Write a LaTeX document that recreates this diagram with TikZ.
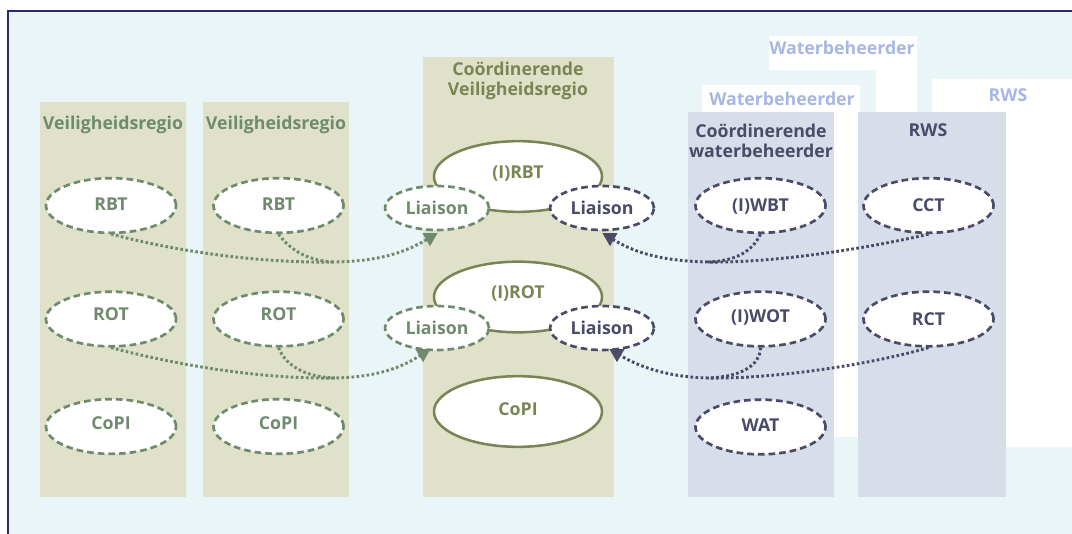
\documentclass[tikz,border=0pt]{standalone}
\usepackage{fontspec}
\setmainfont{Open Sans}
\usetikzlibrary{shapes.geometric}

\definecolor{bgcyan}{HTML}{E9F5F7}
\definecolor{greencol}{HTML}{DFE2C9}
\definecolor{watercol}{HTML}{D8DDEA}
\definecolor{framenavy}{HTML}{2C2A6B}
\definecolor{sage}{HTML}{6F8A6C}
\definecolor{olive}{HTML}{7A8556}
\definecolor{navy}{HTML}{4A4B68}
\definecolor{paleblue}{HTML}{A7B7E1}

\tikzset{
  txt/.style={font=\fontsize{13.3}{15}\selectfont\bfseries},
  lbl/.style={txt, inner sep=0pt, anchor=base, align=center},
  oval/.style={ellipse, fill=white, inner sep=0pt, txt, text height=9.5pt, text depth=0pt},
  up/.style={text depth=#1},
  gdash/.style={oval, draw=sage, text=sage, line width=2pt, dash pattern=on 5pt off 3pt,
    minimum width=97.5pt, minimum height=41pt},
  ndash/.style={oval, draw=navy, text=navy, line width=2pt, dash pattern=on 5pt off 3pt,
    minimum width=97.5pt, minimum height=41pt},
  solidoval/.style={oval, draw=olive, text=olive, line width=1.9pt,
    minimum width=126pt, minimum height=53pt},
  liaisong/.style={gdash, minimum width=78pt, minimum height=33pt},
  liaisonn/.style={ndash, minimum width=78pt, minimum height=33pt},
  gdot/.style={draw=sage, line width=2.2pt, dash pattern=on 2pt off 1.8pt},
  ndot/.style={draw=navy, line width=2.2pt, dash pattern=on 2pt off 1.8pt},
  tri/.style={regular polygon, regular polygon sides=3, shape border rotate=180,
    minimum size=13pt, inner sep=0pt},
}

\begin{document}
\begin{tikzpicture}[x=0.75pt, y=-0.75pt]
\useasboundingbox (0,0) rectangle (1072,533);
\fill[white] (0,0) rectangle (1072,533);

% outer panel
\fill[bgcyan] (8,11) rectangle (1080,545);
\draw[framenavy, line width=1.5pt] (8,545) -- (8,11) -- (1080,11);

% white cards behind the water columns
\fill[white] (769,36) rectangle (917,70);
\fill[white] (876,70) rectangle (917,437);
\fill[white] (702,85) rectangle (860,437);
\fill[white] (932,79) rectangle (1072,447);

% columns
\fill[greencol] (40,102) rectangle (186,497);
\fill[greencol] (203,102) rectangle (349,497);
\fill[greencol] (423,57) rectangle (614,497);
\fill[watercol] (688,112) rectangle (834,497);
\fill[watercol] (858,112) rectangle (1006,497);

% headings (two-line nodes are placed on their last baseline)
\node[lbl, text=sage] (vrA) at (113,129) {Veiligheidsregio};
\node[lbl, text=sage] (vrB) at (276,129) {Veiligheidsregio};
\node[lbl, text=olive] (cvr) at (518,95) {Coördinerende\\Veiligheidsregio};
\node[lbl, text=navy] (cwb) at (761,157) {Coördinerende\\waterbeheerder};
\node[lbl, text=navy] (rwsA) at (928,136) {RWS};
\node[lbl, text=paleblue] (wbTop) at (842,54) {Waterbeheerder};
\node[lbl, text=paleblue] (wbMid) at (782,105) {Waterbeheerder};
\node[lbl, text=paleblue] (rwsB) at (1008,101) {RWS};

% triangles marking the liaison ends
\coordinate (pGA) at (430,237.5);
\coordinate (pNA) at (610,237.5);
\coordinate (pGB) at (423,353.5);
\coordinate (pNB) at (617,353.5);

% ellipses of the regional columns
\node[gdash, up=2.5pt] (rbtA) at (111,205.5) {RBT};
\node[gdash, up=2.5pt] (rbtB) at (278.5,205.5) {RBT};
\node[gdash, up=7.5pt] (rotA) at (111,319) {ROT};
\node[gdash, up=7.5pt] (rotB) at (278.5,319) {ROT};
\node[gdash, up=5.2pt] (copiA) at (111,426.5) {CoPI};
\node[gdash, up=5.2pt] (copiB) at (278.5,426.5) {CoPI};

% water columns
\node[ndash] (iwbt) at (760.5,205.5) {(I)WBT};
\node[ndash] (cct) at (928.5,205.5) {CCT};
\node[ndash, up=4pt] (iwot) at (760.5,319) {(I)WOT};
\node[ndash] (rct) at (928.5,319) {RCT};
\node[ndash, up=3.5pt] (wat) at (760.5,427) {WAT};

% merge points of the dotted links
\coordinate (mGA) at (335,262);
\coordinate (mNA) at (708,262);
\coordinate (mGB) at (335,378);
\coordinate (mNB) at (708,378);

% dotted links
\draw[gdot] (rbtA.south) .. controls (200,257) and (280,263) .. (mGA)
  .. controls (385,261) and (410,250) .. (pGA);
\draw[gdot] (rbtB.south) .. controls (292,252) and (310,261) .. (mGA);
\draw[gdot] (rotA.south) .. controls (200,371) and (280,379) .. (mGB)
  .. controls (380,377) and (405,366) .. (pGB);
\draw[gdot] (rotB.south) .. controls (286,366) and (305,377) .. (mGB);

\draw[ndot] (cct.south) .. controls (860,250) and (770,263) .. (mNA)
  .. controls (665,261) and (635,254) .. (pNA);
\draw[ndot] (iwbt.south) .. controls (752,252) and (735,261) .. (mNA);
\draw[ndot] (rct.south) .. controls (865,366) and (770,379) .. (mNB)
  .. controls (670,377) and (640,368) .. (pNB);
\draw[ndot] (iwot.south) .. controls (760,366) and (740,377) .. (mNB);

% central column
\node[solidoval, up=6.75pt] (irbt) at (518,176.5) {(I)RBT};
\node[solidoval, up=8pt] (irot) at (518,297) {(I)ROT};
\node[solidoval, up=3pt] (copiC) at (518,411.5) {CoPI};

\node[liaisong] (liaGA) at (437,208) {Liaison};
\node[liaisonn] (liaNA) at (602,208) {Liaison};
\node[liaisong] (liaGB) at (437,328) {Liaison};
\node[liaisonn] (liaNB) at (602,328) {Liaison};

\node[tri, fill=sage] (triGA) at (pGA) {};
\node[tri, fill=navy] (triNA) at (pNA) {};
\node[tri, fill=sage] (triGB) at (pGB) {};
\node[tri, fill=navy] (triNB) at (pNB) {};
\end{tikzpicture}
\end{document}
